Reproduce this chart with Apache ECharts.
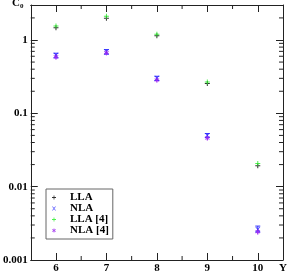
<!DOCTYPE html>
<html><head><meta charset="utf-8">
<script src="https://cdn.jsdelivr.net/npm/echarts@6/dist/echarts.min.js"></script>
<style>html,body{margin:0;padding:0;background:#fff}#c{width:288px;height:274px}</style>
</head><body><div id="c"></div>
<script>
const xTickLabels = [6, 7, 8, 9, 10];
const xMinorTicks = [6.5, 7.5, 8.5, 9.5];
const yTickLabels = [0.001, 0.01, 0.1, 1];
const yMinorTicks = [0.002,0.003,0.004,0.005,0.006,0.007,0.008,0.009,
                     0.02,0.03,0.04,0.05,0.06,0.07,0.08,0.09,
                     0.2,0.3,0.4,0.5,0.6,0.7,0.8,0.9,2];
const seriesNames = ['LLA', 'NLA', 'LLA [4]', 'NLA [4]'];
const llaData = [[6,1.47],[7,1.98],[8,1.14],[9,0.255],[10,0.0193]];
const nlaData = [[6,0.62],[7,0.69],[8,0.30],[9,0.050],[10,0.0026]];
const lla4Data = [[6,1.55],[7,2.1],[8,1.2],[9,0.268],[10,0.0207]];
const nla4Data = [[6,0.59],[7,0.67],[8,0.285],[9,0.046],[10,0.00243]];
const nlaErr = [[6,0.57,0.66],[7,0.64,0.74],[8,0.28,0.32],[9,0.047,0.053],[10,0.0024,0.0029]];
const nla4Err = [[6,0.54,0.63],[7,0.62,0.71],[8,0.265,0.30],[9,0.043,0.049],[10,0.00222,0.00262]];

const xMin = 5.5, xMax = 10.5, yMin = 0.001, yMax = 3;
const font = 'Liberation Serif';
const axisCol = '#222';
const plusPath = 'path://M2,0H3V2H5V3H3V5H2V3H0V2H2Z';
const xPath = 'path://M0,0L1,0L2.5,1.8L4,0L5,0L3,2.5L5,5L4,5L2.5,3.2L1,5L0,5L2,2.5Z';
const starPath = 'path://M2,0H3V1.6L4.3,0.7L4.8,1.5L3.4,2.5L4.8,3.5L4.3,4.3L3,3.4V5H2V3.4L0.7,4.3L0.2,3.5L1.6,2.5L0.2,1.5L0.7,0.7L2,1.6Z';

const chart = echarts.init(document.getElementById('c'));

function errRender(color, cap) {
  return function (params, api) {
    const top = api.coord([api.value(0), api.value(2)]);
    const bot = api.coord([api.value(0), api.value(1)]);
    const children = [{type:'line', shape:{x1:top[0],y1:top[1],x2:bot[0],y2:bot[1]}, style:{stroke:color,lineWidth:1}}];
    if (cap) {
      children.push({type:'line', shape:{x1:top[0]-2.5,y1:top[1],x2:top[0]+2.5,y2:top[1]}, style:{stroke:color,lineWidth:1}});
      children.push({type:'line', shape:{x1:bot[0]-2.5,y1:bot[1],x2:bot[0]+2.5,y2:bot[1]}, style:{stroke:color,lineWidth:1}});
    }
    return {type:'group', children};
  };
}

const baseX = {type:'value', min:xMin, max:xMax, splitLine:{show:false},
  axisLine:{show:true, lineStyle:{color:axisCol, width:1}}};
const baseY = {type:'log', min:yMin, max:yMax, logBase:10, splitLine:{show:false},
  axisLine:{show:true, lineStyle:{color:axisCol, width:1}}};

chart.setOption({
  animation:false,
  backgroundColor:'#fff',
  grid:{left:27, right:5, top:5, bottom:11},
  xAxis:[
    Object.assign({}, baseX, {position:'bottom',
      axisTick:{show:true, inside:true, length:7, customValues:xTickLabels, lineStyle:{color:axisCol}},
      axisLabel:{show:true, customValues:xTickLabels, margin:3, fontFamily:font, fontWeight:'bold', fontSize:11, color:'#000'}}),
    Object.assign({}, baseX, {position:'top',
      axisTick:{show:true, inside:true, length:7, customValues:xTickLabels, lineStyle:{color:axisCol}},
      axisLabel:{show:false}})
  ],
  yAxis:[
    Object.assign({}, baseY, {position:'left',
      axisTick:{show:true, inside:true, length:7, lineStyle:{color:axisCol}},
      axisLabel:{show:true, margin:3, fontFamily:font, fontWeight:'bold', fontSize:11, color:'#000',
        formatter:function(v){ for (const t of yTickLabels){ if (Math.abs(Math.log10(v)-Math.log10(t))<1e-6) return String(t);} return ''; }}}),
    Object.assign({}, baseY, {position:'right',
      axisTick:{show:true, inside:true, length:7, lineStyle:{color:axisCol}},
      axisLabel:{show:false}})
  ],
  legend:{
    data:seriesNames, orient:'vertical', left:46, top:189,
    padding:[3,4,3,6], itemGap:0, itemWidth:4, itemHeight:4,
    backgroundColor:'#fff', borderColor:'#666', borderWidth:1, borderRadius:0,
    textStyle:{fontFamily:font, fontWeight:'bold', fontSize:11, lineHeight:11, color:'#000', padding:[0,0,0,9]}
  },
  graphic:[
    {type:'text', left:12, top:-2, style:{text:'{c|C}{s|0}', rich:{
      c:{fontFamily:font, fontWeight:'bold', fontSize:11, fill:'#000'},
      s:{fontFamily:font, fontWeight:'bold', fontSize:7, fill:'#000', verticalAlign:'bottom', padding:[6,0,0,0]}}}},
    {type:'text', left:279, top:263, style:{text:'Y', fontFamily:font, fontWeight:'bold', fontSize:11, fill:'#000'}}
  ],
  series:[
    {type:'custom', name:'yminor', silent:true, data:yMinorTicks.map(v=>[v]),
      renderItem:function(params, api){
        const l = api.coord([xMin, api.value(0)]);
        const r = api.coord([xMax, api.value(0)]);
        return {type:'group', children:[
          {type:'line', shape:{x1:l[0],y1:l[1],x2:l[0]+4,y2:l[1]}, style:{stroke:axisCol,lineWidth:1}},
          {type:'line', shape:{x1:r[0],y1:r[1],x2:r[0]-4,y2:r[1]}, style:{stroke:axisCol,lineWidth:1}}]};
      }, encode:{y:0}},
    {type:'custom', name:'xminor', silent:true, data:xMinorTicks.map(v=>[v]),
      renderItem:function(params, api){
        const b = api.coord([api.value(0), yMin]);
        const t = api.coord([api.value(0), yMax]);
        return {type:'group', children:[
          {type:'line', shape:{x1:b[0],y1:b[1],x2:b[0],y2:b[1]-4}, style:{stroke:axisCol,lineWidth:1}},
          {type:'line', shape:{x1:t[0],y1:t[1],x2:t[0],y2:t[1]+4}, style:{stroke:axisCol,lineWidth:1}}]};
      }, encode:{x:0}},
    {type:'custom', name:'nlaErr', silent:true, data:nlaErr, renderItem:errRender('#3333ff', true), encode:{x:0, y:[1,2]}, z:3},
    {type:'custom', name:'nla4Err', silent:true, data:nla4Err, renderItem:errRender('#bb44ff', false), encode:{x:0, y:[1,2]}, z:3},
    {type:'scatter', name:'LLA', data:llaData, symbol:plusPath, symbolSize:5, itemStyle:{color:'#000'}, z:4},
    {type:'scatter', name:'NLA', data:nlaData, symbol:xPath, symbolSize:5, itemStyle:{color:'#2222ff'}, z:5},
    {type:'scatter', name:'LLA [4]', data:lla4Data, symbol:plusPath, symbolSize:5, itemStyle:{color:'#22ee22'}, z:5},
    {type:'scatter', name:'NLA [4]', data:nla4Data, symbol:starPath, symbolSize:5, itemStyle:{color:'#9922ee'}, z:6}
  ]
});
</script></body></html>
